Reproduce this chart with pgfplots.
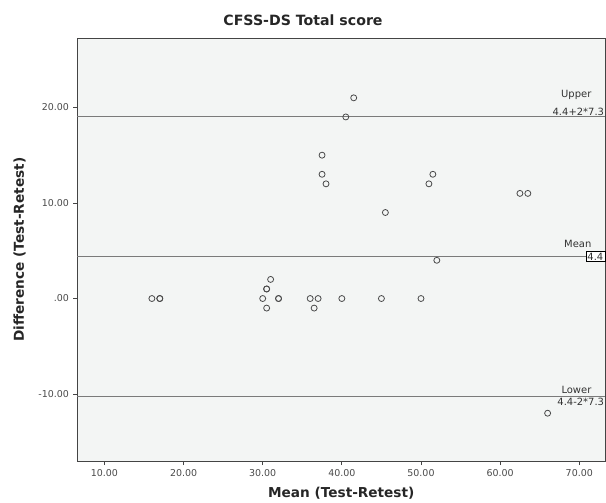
\documentclass[border=0pt]{standalone}
\usepackage{pgfplots}
\pgfplotsset{compat=1.18}
\usepackage{fontspec}
\setmainfont{DejaVu Sans}
\definecolor{bgc}{HTML}{F3F5F4}
\definecolor{linec}{HTML}{7A7A7A}
\definecolor{markc}{HTML}{4A4A4A}
\definecolor{framec}{HTML}{444444}
\definecolor{tickc}{HTML}{4A4A4A}
\begin{document}
\begin{tikzpicture}
\begin{axis}[
  scale only axis,
  width=527.5bp, height=423bp,
  xmin=6.6, xmax=73.25,
  ymin=-17.0, ymax=27.26,
  axis background/.style={fill=bgc},
  axis line style={framec, line width=0.8pt},
  xtick={10,20,30,40,50,60,70},
  xticklabels={10.00,20.00,30.00,40.00,50.00,60.00,70.00},
  ytick={-10,0,10,20},
  yticklabels={-10.00,.00,10.00,20.00},
  tick align=outside,
  xtick pos=left, ytick pos=left,
  major tick length=4bp,
  tick style={framec, line width=0.8pt},
  tick label style={font=\fontsize{9.5}{11}\selectfont, text=tickc},
  xticklabel style={yshift=-1bp},
  yticklabel style={xshift=-1bp},
  xlabel={Mean (Test-Retest)},
  ylabel={Difference (Test-Retest)},
  label style={font=\bfseries\fontsize{13.7}{15}\selectfont, text=black!85},
  xlabel style={at={(axis description cs:0.5,-0.0757)}, anchor=center},
  ylabel style={at={(axis description cs:-0.110,0.5)}, anchor=center},
  clip=false,
]
% reference lines
\addplot[linec, line width=1pt] coordinates {(6.6,19.0) (73.25,19.0)};
\addplot[linec, line width=1pt] coordinates {(6.6,4.4) (73.25,4.4)};
\addplot[linec, line width=1pt] coordinates {(6.6,-10.2) (73.25,-10.2)};
% data
\addplot[only marks, mark=o, mark size=3bp, markc, mark options={line width=0.8pt}] coordinates {
 (41.5,21) (40.5,19) (37.5,15) (37.5,13) (38,12)
 (51.5,13) (51,12) (45.5,9) (62.5,11) (63.5,11) (52,4)
 (16,0) (17,0) (17,0) (31,2) (30.5,1) (30.5,1) (30,0) (30.5,-1)
 (32,0) (32,0) (36,0) (37,0) (36.5,-1) (40,0)
 (45,0) (50,0) (66,-12)
};
% annotations
\node[anchor=south east, inner sep=0pt, font=\fontsize{10}{11}\selectfont, text=black!80] at (axis cs:71.55,20.75) {Upper};
\node[anchor=south east, inner sep=0pt, font=\fontsize{10}{11}\selectfont, text=black!80] at (axis cs:73.15,19.15) {4.4+2*7.3};
\node[anchor=south east, inner sep=0pt, font=\fontsize{10}{11}\selectfont, text=black!80] at (axis cs:71.55,5.3) {Mean};
\node[anchor=east, draw=black, line width=0.5pt, fill=white, inner sep=1.5pt, font=\fontsize{10}{11}\selectfont, text=black!80] at (axis cs:73.25,4.4) {4.4};
\node[anchor=south east, inner sep=0pt, font=\fontsize{10}{11}\selectfont, text=black!80] at (axis cs:71.55,-9.95) {Lower};
\node[anchor=north east, inner sep=0pt, font=\fontsize{10}{11}\selectfont, text=black!80] at (axis cs:73.15,-10.4) {4.4-2*7.3};
\end{axis}
\node[font=\bfseries\fontsize{14.2}{16}\selectfont, text=black!85] at (225.5bp,440.5bp) {CFSS-DS Total score};
\pgfresetboundingbox
\path (-77.5bp,-42bp) rectangle (528.5bp,461bp);
\end{tikzpicture}
\end{document}
